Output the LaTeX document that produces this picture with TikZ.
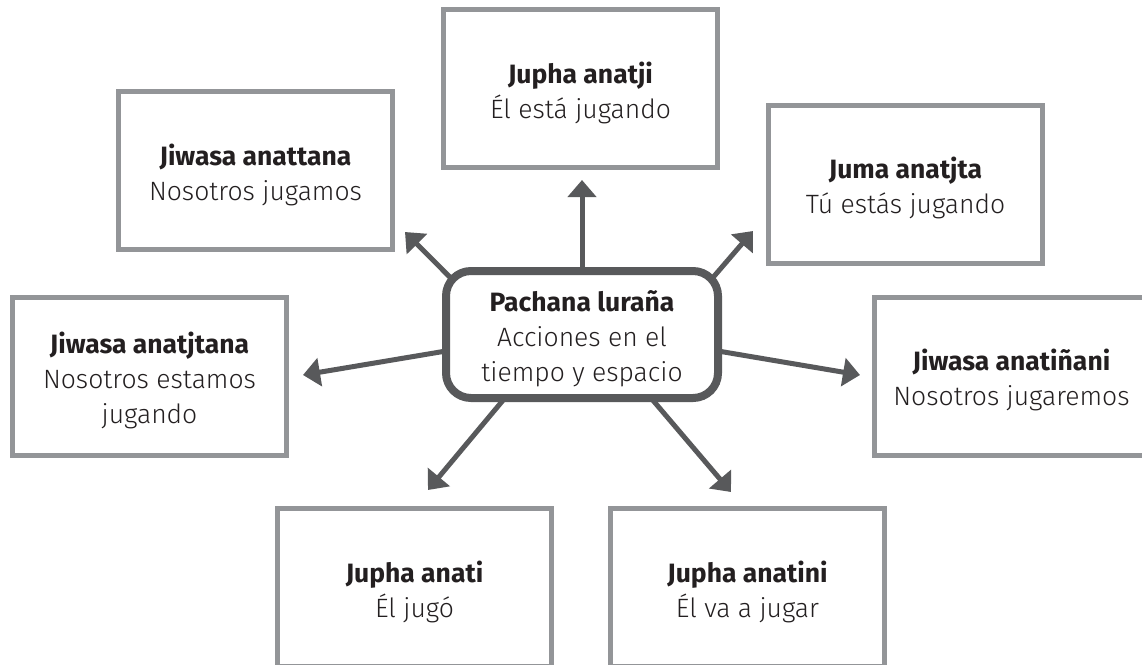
\documentclass[tikz,border=0pt]{standalone}
\usepackage{fontspec}
\setmainfont{Fira Sans}[UprightFont={* Light}, BoldFont={* Bold}]
\usetikzlibrary{arrows.meta,backgrounds}
\definecolor{boxgray}{HTML}{939598}
\definecolor{hubgray}{HTML}{58595B}
\definecolor{txt}{HTML}{231F20}
\newcommand{\leaftext}[2]{\raisebox{-5pt}[\height][\depth]{\begin{tabular}{@{}c@{}}\textbf{#1}\\#2\end{tabular}}}
\begin{document}
\begin{tikzpicture}[x=1pt,y=-1pt,
  leaf/.style={draw=boxgray, line width=5pt, fill=white, minimum width=274pt, minimum height=158pt,
    align=center, text=txt, font=\fontsize{26.5}{35}\selectfont, inner sep=0pt},
  hub/.style={draw=hubgray, line width=8pt, rounded corners=25pt, fill=white, minimum width=272pt,
    minimum height=127pt, align=center, text=txt, font=\fontsize{26.5}{35}\selectfont, inner sep=0pt},
  arr/.style={draw=hubgray, line width=5pt, shorten <=-20pt, -{Triangle[length=17pt,width=28pt]}}]
\useasboundingbox (0,0) rectangle (1142,664);
\clip (0,0) rectangle (1142,664);

\node[hub] (c) at (582,334.5) {\leaftext{Pachana luraña}{Acciones en el\\tiempo y espacio}};

\node[leaf] (n)  at (580.5,88.5) {\leaftext{Jupha anatji}{Él está jugando}};
\node[leaf] (tl) at (255.5,170.5) {\leaftext{Jiwasa anattana}{Nosotros jugamos}};
\node[leaf] (tr) at (905.5,184) {\leaftext{Juma anatjta}{Tú estás jugando}};
\node[leaf] (l)  at (149.5,376) {\leaftext{Jiwasa anatjtana}{Nosotros estamos\\jugando}};
\node[leaf] (r)  at (1011.5,376) {\leaftext{Jiwasa anatiñani}{Nosotros jugaremos}};
\node[leaf] (bl) at (414.5,587.5) {\leaftext{Jupha anati}{Él jugó}};
\node[leaf] (br) at (747.5,587.5) {\leaftext{Jupha anatini}{Él va a jugar}};

\coordinate (tN)  at (582,180);
\coordinate (tTL) at (405,232);
\coordinate (tTR) at (753,231);
\coordinate (tL)  at (303,375);
\coordinate (tR)  at (860,375);
\coordinate (tBL) at (428,490);
\coordinate (tBR) at (731,492);

\begin{scope}[on background layer]
\draw[arr] (c.north) -- (tN);
\draw[arr] (c.155.5) -- (tTL);
\draw[arr] (c.north east) -- (tTR);
\draw[arr] (c.187.1) -- (tL);
\draw[arr] (c.353.5) -- (tR);
\draw[arr] (c.220.6) -- (tBL);
\draw[arr] (c.317.6) -- (tBR);
\end{scope}
\end{tikzpicture}
\end{document}
